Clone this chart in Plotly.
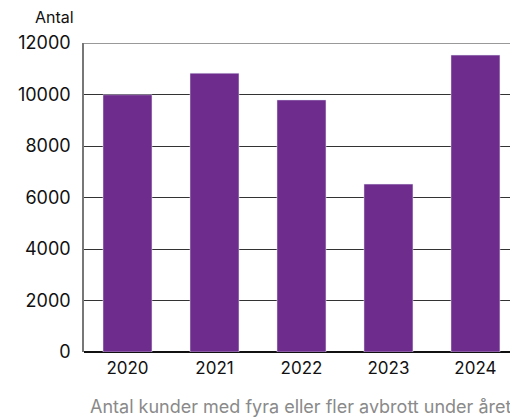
import plotly.graph_objects as go

years = ["2020", "2021", "2022", "2023", "2024"]
values = [9990, 10830, 9790, 6520, 11530]
y_ticks = [0, 2000, 4000, 6000, 8000, 10000, 12000]
y_labels = [str(v) for v in y_ticks]

fig = go.Figure(go.Bar(x=years, y=values, marker_color="#6e2c8c", width=0.563))

H = 418 - 43 - 66
fig.update_layout(
    width=510, height=418,
    margin=dict(l=84, r=0, t=43, b=66),
    plot_bgcolor="white", paper_bgcolor="white",
    font=dict(family="Inter, Lato, sans-serif", color="#111"),
    showlegend=False,
    xaxis=dict(type="category", range=[-0.5, 4.397], showgrid=False,
               tickfont=dict(size=17), ticks="", ticklen=0,
               showline=False, zeroline=False, ticklabelstandoff=4),
    yaxis=dict(range=[0, 12000], tickvals=y_ticks, ticktext=y_labels,
               tickfont=dict(size=18), gridcolor="#333", gridwidth=1,
               showline=True, linecolor="#777", linewidth=1.5,
               zeroline=True, zerolinecolor="#111", zerolinewidth=2,
               ticks="", ticklabelstandoff=8),
    shapes=[dict(type="line", xref="paper", yref="y", x0=0, x1=1, y0=12000, y1=12000,
                 line=dict(color="#777", width=1.5))],
    annotations=[
        dict(text="Antal", x=(76 - 84) / (510 - 84), y=(418 - 17 - 66) / H,
             xref="paper", yref="paper", showarrow=False,
             font=dict(size=16), xanchor="right", yanchor="middle"),
        dict(text="Antal kunder med fyra eller fler avbrott under året",
             x=1, y=(418 - 406 - 66) / H, xref="paper", yref="paper", showarrow=False,
             font=dict(size=18, color="#8a8a8a"), xanchor="right", yanchor="middle",
             xshift=3),
    ],
)
fig.write_html("out.html")
